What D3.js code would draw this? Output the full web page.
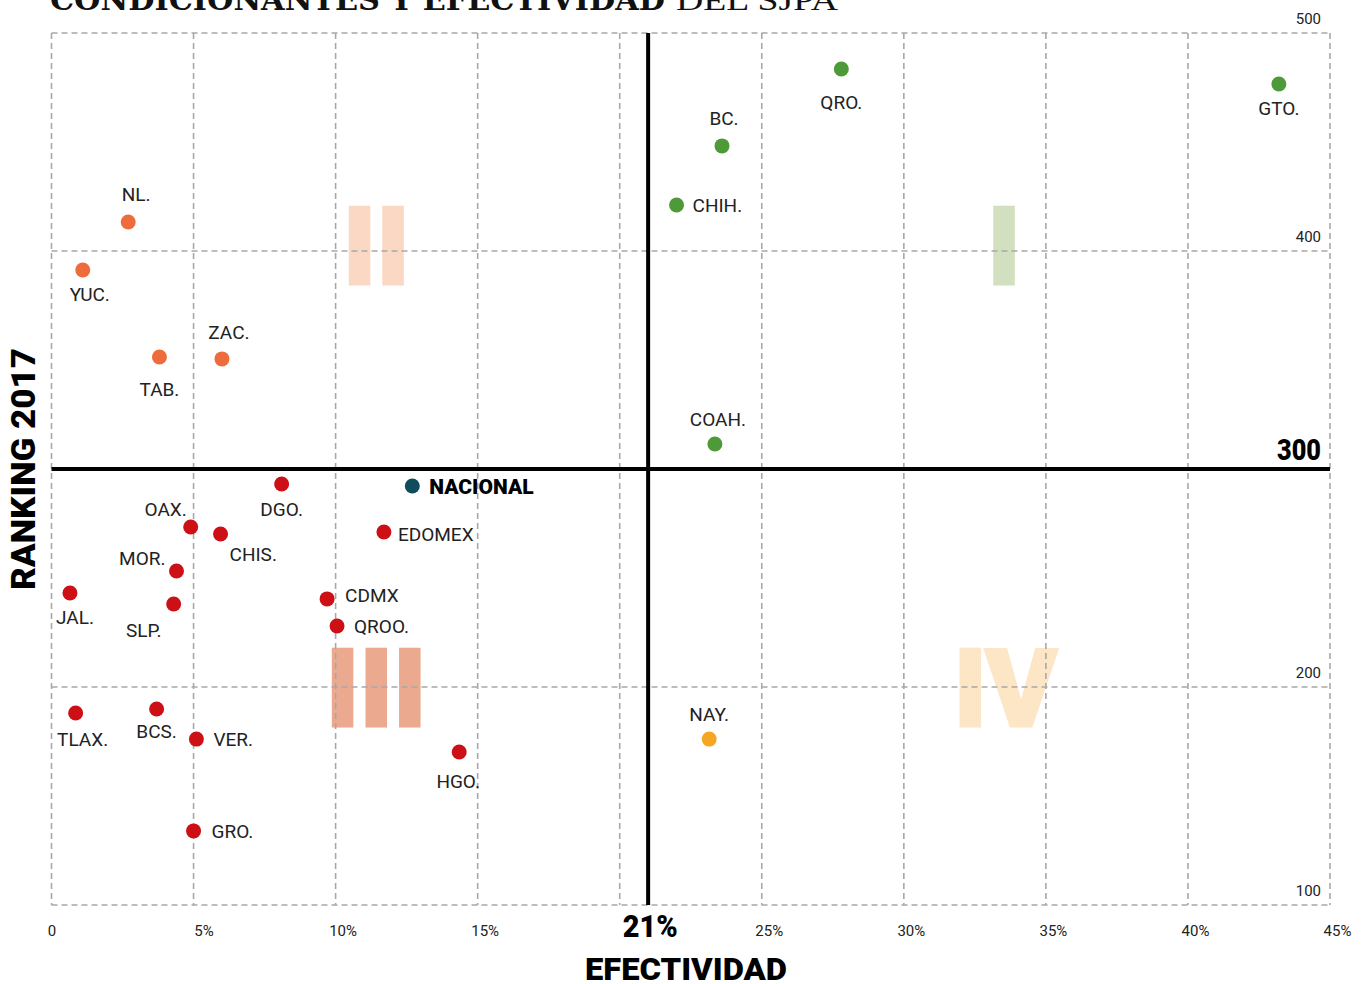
<!DOCTYPE html>
<html><head><meta charset="utf-8">
<script src="https://cdn.jsdelivr.net/npm/d3@7"></script>
<style>
html,body{margin:0;padding:0;background:#fff;}
svg{display:block;}
</style></head>
<body>
<svg id="chart" width="1367" height="984"></svg>
<script>
// ---------- DATA ----------
const states = ["QRO.","GTO.","BC.","CHIH.","COAH.","NL.","YUC.","TAB.","ZAC.","NACIONAL","DGO.","OAX.","CHIS.","EDOMEX","MOR.","JAL.","SLP.","CDMX","QROO.","TLAX.","BCS.","VER.","HGO.","GRO.","NAY."];
const efectividad = [27.8,43.2,23.6,22.0,23.35,2.7,1.1,3.8,6.0,12.7,8.1,4.9,5.95,11.7,4.4,0.65,4.3,9.7,10.05,0.85,3.7,5.1,14.35,5.0,23.15];
const ranking = [483.5,476.6,448.2,421.1,311.5,413.3,391.3,351.4,350.5,292.2,293.1,273.4,270.2,271.1,253.2,243.1,238.1,240.4,228.0,188.1,189.9,176.1,170.2,134.0,176.1];
const grupo = ["I","I","I","I","I","II","II","II","II","NAC","III","III","III","III","III","III","III","III","III","III","III","III","III","III","IV"];
const xTickValues = [0,5,10,15,25,30,35,40,45];
const xTickLabels = ["0","5%","10%","15%","25%","30%","35%","40%","45%"];
const xGridValues = [0,5,10,15,20,25,30,35,40,45];
const yTickValues = [500,400,200,100];
const yGridValues = [500,400,200,100];
const promedioEfectividad = 21;
const corteRanking = 300;
const cuadrantes = ["I","II","III","IV"];
const titulo1 = "CONDICIONANTES Y EFECTIVIDAD";
const titulo2 = "DEL SJPA";

// ---------- STYLE / LAYOUT ----------
const colorGrupo = {I:"#4f9a38", II:"#ee6c3c", III:"#cc1016", IV:"#f5a623", NAC:"#0f4c5c"};
const colorCuadrante = {I:"#d3e0c0", II:"#fbd8c4", III:"#eba98f", IV:"#fde6c6"};
// quadrant numeral anchor (data coords: center x, top y)
const posCuadrante = {I:[33.55,421], II:[11.45,421], III:[11.45,218.3], IV:[33.56,218.3]};
const labelLayout = {
 "QRO.":["m",0,33],"GTO.":["m",0,24],"BC.":["m",2,-28],"CHIH.":["s",16,0],"COAH.":["m",3,-25],
 "NL.":["m",8,-28],"YUC.":["m",7,24],"TAB.":["m",0,32],"ZAC.":["m",7,-27],"NACIONAL":["s",17,0],
 "DGO.":["m",0,25],"OAX.":["e",-4,-18],"CHIS.":["s",9,20],"EDOMEX":["s",14,2],"MOR.":["e",-11,-13],
 "JAL.":["m",5,24],"SLP.":["m",-30,26],"CDMX":["s",18,-4],"QROO.":["s",17,0],"TLAX.":["m",7,26],
 "BCS.":["m",0,22],"VER.":["s",17,0],"HGO.":["m",-1,29],"GRO.":["s",18,0],"NAY.":["m",0,-25]
};
const anchorMap = {m:"middle", s:"start", e:"end"};

const svg = d3.select("#chart");
const x = d3.scaleLinear().domain([0,45]).range([51.5,1330]);
const y = d3.scaleLinear().domain([100,500]).range([905,33]);

const lightFont = "Roboto, 'Liberation Sans', sans-serif";
const heavyFont = "Roboto, 'Lato', 'Liberation Sans', sans-serif";

// title
svg.append("text").attr("x",50).attr("y",10)
  .attr("font-family","'DejaVu Serif', 'Liberation Serif', serif").attr("font-size",30).attr("fill","#111")
  .attr("font-weight","bold").attr("textLength",615).attr("lengthAdjust","spacingAndGlyphs").text(titulo1);
svg.append("text").attr("x",676).attr("y",10)
  .attr("font-family","'Liberation Serif', 'DejaVu Serif', serif").attr("font-size",30).attr("fill","#111")
  .attr("textLength",162).attr("lengthAdjust","spacingAndGlyphs").text(titulo2);

// quadrant numerals
const qg = svg.append("g");
cuadrantes.forEach(q => {
  const [cx, top] = posCuadrante[q];
  qg.append("text")
    .attr("x", x(cx)).attr("y", y(top) + 78.5)
    .attr("text-anchor","middle")
    .attr("font-family",heavyFont).attr("font-weight",900)
    .attr("font-size",108)
    .attr("letter-spacing", q==="IV" ? -1 : 1)
    .attr("fill", colorCuadrante[q])
    .attr("stroke", colorCuadrante[q]).attr("stroke-width",3)
    .text(q);
});

// grid
const grid = svg.append("g").attr("stroke","#a8a8a8").attr("stroke-width",1.6).attr("stroke-dasharray","6,4").attr("fill","none");
xGridValues.forEach(v => grid.append("line").attr("x1",x(v)).attr("x2",x(v)).attr("y1",y(500)).attr("y2",y(100)));
yGridValues.forEach(v => grid.append("line").attr("x1",x(0)).attr("x2",x(45)).attr("y1",y(v)).attr("y2",y(v)));

// thick reference lines
svg.append("line").attr("x1",x(promedioEfectividad)).attr("x2",x(promedioEfectividad))
  .attr("y1",y(500)).attr("y2",y(100)).attr("stroke","#000").attr("stroke-width",4);
svg.append("line").attr("x1",x(0)).attr("x2",x(45))
  .attr("y1",y(corteRanking)).attr("y2",y(corteRanking)).attr("stroke","#000").attr("stroke-width",4);

// x axis tick labels
const xAxis = d3.axisBottom(x).tickValues(xTickValues).tickSize(0)
  .tickFormat((d,i) => xTickLabels[i]);
const xg = svg.append("g").attr("transform",`translate(0,${y(100)})`).call(xAxis);
xg.select(".domain").remove();
xg.selectAll("text").attr("font-family",lightFont).attr("font-size",15).attr("fill","#222")
  .attr("y",31).attr("dy",0).attr("dx",d => d===0 ? 0 : (d===5 ? 10 : 7));

// y tick labels
const yAxis = d3.axisRight(y).tickValues(yTickValues).tickSize(0).tickFormat(d3.format("d"));
const yg = svg.append("g").attr("transform",`translate(1321,0)`).call(yAxis);
yg.select(".domain").remove();
yg.selectAll("text").attr("font-family",lightFont).attr("font-size",15).attr("fill","#222")
  .attr("text-anchor","end").attr("x",0).attr("dy",-10);

// special bold labels
svg.append("text").attr("x",1321).attr("y",y(corteRanking)-9).attr("text-anchor","end")
  .attr("font-family",heavyFont).attr("font-weight",900).attr("font-size",29)
  .attr("textLength",44).attr("lengthAdjust","spacingAndGlyphs").attr("fill","#000").text(String(corteRanking));
svg.append("text").attr("x",x(promedioEfectividad)+2).attr("y",937).attr("text-anchor","middle")
  .attr("font-family",heavyFont).attr("font-weight",900).attr("font-size",31)
  .attr("textLength",55).attr("lengthAdjust","spacingAndGlyphs").attr("fill","#000").text(promedioEfectividad+"%");

// axis titles
svg.append("text").attr("x",686).attr("y",980).attr("text-anchor","middle")
  .attr("font-family",heavyFont).attr("font-weight",900).attr("font-size",32)
  .attr("textLength",202).attr("lengthAdjust","spacingAndGlyphs").attr("fill","#000").text("EFECTIVIDAD");
svg.append("text").attr("transform","translate(35,469) rotate(-90)").attr("text-anchor","middle")
  .attr("font-family",heavyFont).attr("font-weight",900).attr("font-size",34)
  .attr("textLength",242).attr("lengthAdjust","spacingAndGlyphs").attr("fill","#000").text("RANKING 2017");

// points
const data = states.map((s,i) => ({s, e:efectividad[i], r:ranking[i], g:grupo[i]}));
svg.append("g").selectAll("circle").data(data).join("circle")
  .attr("cx",d => x(d.e)).attr("cy",d => y(d.r)).attr("r",7.5)
  .attr("fill",d => colorGrupo[d.g]);

// labels
svg.append("g").selectAll("text").data(data).join("text")
  .attr("x",d => x(d.e) + labelLayout[d.s][1])
  .attr("y",d => y(d.r) + labelLayout[d.s][2])
  .attr("dy","0.36em")
  .attr("text-anchor",d => anchorMap[labelLayout[d.s][0]])
  .attr("font-family",d => d.g==="NAC" ? heavyFont : lightFont)
  .attr("font-weight",d => d.g==="NAC" ? 900 : 400)
  .attr("font-size",d => d.g==="NAC" ? 21 : 19)
  .attr("fill",d => d.g==="NAC" ? "#000" : "#222")
  .text(d => d.s);
</script>
</body></html>
